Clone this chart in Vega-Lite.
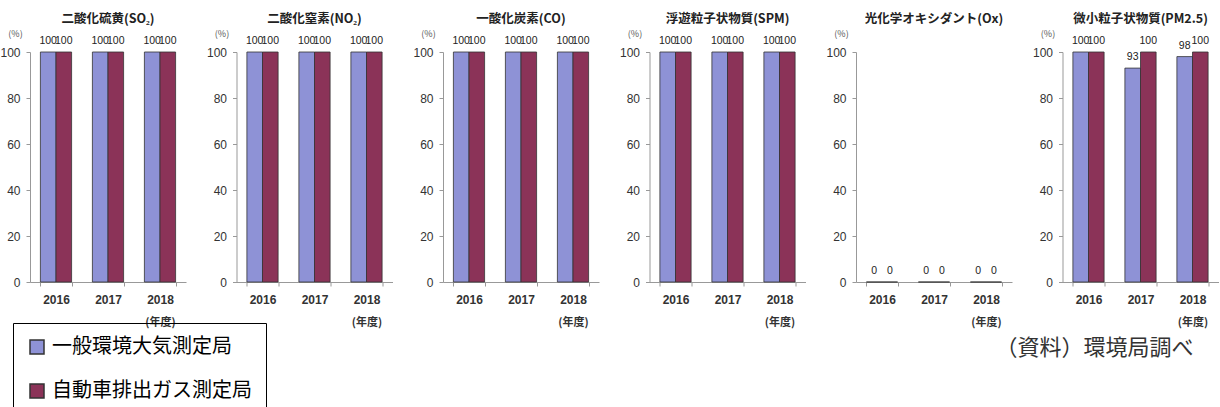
{
  "$schema": "https://vega.github.io/schema/vega-lite/v6.json",
  "background": "white",
  "padding": {"left": -1, "top": 12, "right": 0, "bottom": 0},
  "datasets": {
    "d": [
      {"pollutant": "SO2", "year": "2016", "station": "一般環境大気測定局", "value": 100},
      {"pollutant": "SO2", "year": "2016", "station": "自動車排出ガス測定局", "value": 100},
      {"pollutant": "SO2", "year": "2017", "station": "一般環境大気測定局", "value": 100},
      {"pollutant": "SO2", "year": "2017", "station": "自動車排出ガス測定局", "value": 100},
      {"pollutant": "SO2", "year": "2018", "station": "一般環境大気測定局", "value": 100},
      {"pollutant": "SO2", "year": "2018", "station": "自動車排出ガス測定局", "value": 100},
      {"pollutant": "NO2", "year": "2016", "station": "一般環境大気測定局", "value": 100},
      {"pollutant": "NO2", "year": "2016", "station": "自動車排出ガス測定局", "value": 100},
      {"pollutant": "NO2", "year": "2017", "station": "一般環境大気測定局", "value": 100},
      {"pollutant": "NO2", "year": "2017", "station": "自動車排出ガス測定局", "value": 100},
      {"pollutant": "NO2", "year": "2018", "station": "一般環境大気測定局", "value": 100},
      {"pollutant": "NO2", "year": "2018", "station": "自動車排出ガス測定局", "value": 100},
      {"pollutant": "CO", "year": "2016", "station": "一般環境大気測定局", "value": 100},
      {"pollutant": "CO", "year": "2016", "station": "自動車排出ガス測定局", "value": 100},
      {"pollutant": "CO", "year": "2017", "station": "一般環境大気測定局", "value": 100},
      {"pollutant": "CO", "year": "2017", "station": "自動車排出ガス測定局", "value": 100},
      {"pollutant": "CO", "year": "2018", "station": "一般環境大気測定局", "value": 100},
      {"pollutant": "CO", "year": "2018", "station": "自動車排出ガス測定局", "value": 100},
      {"pollutant": "SPM", "year": "2016", "station": "一般環境大気測定局", "value": 100},
      {"pollutant": "SPM", "year": "2016", "station": "自動車排出ガス測定局", "value": 100},
      {"pollutant": "SPM", "year": "2017", "station": "一般環境大気測定局", "value": 100},
      {"pollutant": "SPM", "year": "2017", "station": "自動車排出ガス測定局", "value": 100},
      {"pollutant": "SPM", "year": "2018", "station": "一般環境大気測定局", "value": 100},
      {"pollutant": "SPM", "year": "2018", "station": "自動車排出ガス測定局", "value": 100},
      {"pollutant": "Ox", "year": "2016", "station": "一般環境大気測定局", "value": 0},
      {"pollutant": "Ox", "year": "2016", "station": "自動車排出ガス測定局", "value": 0},
      {"pollutant": "Ox", "year": "2017", "station": "一般環境大気測定局", "value": 0},
      {"pollutant": "Ox", "year": "2017", "station": "自動車排出ガス測定局", "value": 0},
      {"pollutant": "Ox", "year": "2018", "station": "一般環境大気測定局", "value": 0},
      {"pollutant": "Ox", "year": "2018", "station": "自動車排出ガス測定局", "value": 0},
      {"pollutant": "PM25", "year": "2016", "station": "一般環境大気測定局", "value": 100},
      {"pollutant": "PM25", "year": "2016", "station": "自動車排出ガス測定局", "value": 100},
      {"pollutant": "PM25", "year": "2017", "station": "一般環境大気測定局", "value": 93},
      {"pollutant": "PM25", "year": "2017", "station": "自動車排出ガス測定局", "value": 100},
      {"pollutant": "PM25", "year": "2018", "station": "一般環境大気測定局", "value": 98},
      {"pollutant": "PM25", "year": "2018", "station": "自動車排出ガス測定局", "value": 100}
    ]
  },
  "data": {"name": "d"},
  "title": {"text": "（資料）環境局調べ", "orient": "bottom", "anchor": "end", "offset": -78, "dx": -25, "fontSize": 22, "font": "Noto Sans CJK JP", "fontWeight": "normal", "color": "#333"},
  "spacing": 19.5,
  "hconcat": [
    {
      "title": "二酸化硫黄(SO₂)",
      "transform": [{"filter": "datum.pollutant === 'SO2'"}],
      "width": 156, "height": 230,
      "encoding": {
        "x": {"field": "year", "type": "nominal", "scale": {"paddingInner": 0.4, "paddingOuter": 0.2}, "axis": {"title": "(年度)"}},
        "xOffset": {"field": "station", "type": "nominal"},
        "y": {"field": "value", "type": "quantitative", "scale": {"domain": [0, 100]}, "axis": {"title": "(%)"}}
      },
      "layer": [
        {"mark": {"type": "bar", "stroke": "#333", "strokeWidth": 0.8}, "encoding": {"color": {"field": "station", "type": "nominal"}}},
        {"mark": {"type": "text", "baseline": "bottom", "dy": -6, "fontSize": 10.5, "font": "Liberation Sans", "color": "#222"}, "encoding": {"text": {"field": "value", "type": "quantitative"}}}
      ]
    },
    {
      "title": "二酸化窒素(NO₂)",
      "transform": [{"filter": "datum.pollutant === 'NO2'"}],
      "width": 156, "height": 230,
      "encoding": {
        "x": {"field": "year", "type": "nominal", "scale": {"paddingInner": 0.4, "paddingOuter": 0.2}, "axis": {"title": "(年度)"}},
        "xOffset": {"field": "station", "type": "nominal"},
        "y": {"field": "value", "type": "quantitative", "scale": {"domain": [0, 100]}, "axis": {"title": "(%)"}}
      },
      "layer": [
        {"mark": {"type": "bar", "stroke": "#333", "strokeWidth": 0.8}, "encoding": {"color": {"field": "station", "type": "nominal"}}},
        {"mark": {"type": "text", "baseline": "bottom", "dy": -6, "fontSize": 10.5, "font": "Liberation Sans", "color": "#222"}, "encoding": {"text": {"field": "value", "type": "quantitative"}}}
      ]
    },
    {
      "title": "一酸化炭素(CO)",
      "transform": [{"filter": "datum.pollutant === 'CO'"}],
      "width": 156, "height": 230,
      "encoding": {
        "x": {"field": "year", "type": "nominal", "scale": {"paddingInner": 0.4, "paddingOuter": 0.2}, "axis": {"title": "(年度)"}},
        "xOffset": {"field": "station", "type": "nominal"},
        "y": {"field": "value", "type": "quantitative", "scale": {"domain": [0, 100]}, "axis": {"title": "(%)"}}
      },
      "layer": [
        {"mark": {"type": "bar", "stroke": "#333", "strokeWidth": 0.8}, "encoding": {"color": {"field": "station", "type": "nominal"}}},
        {"mark": {"type": "text", "baseline": "bottom", "dy": -6, "fontSize": 10.5, "font": "Liberation Sans", "color": "#222"}, "encoding": {"text": {"field": "value", "type": "quantitative"}}}
      ]
    },
    {
      "title": "浮遊粒子状物質(SPM)",
      "transform": [{"filter": "datum.pollutant === 'SPM'"}],
      "width": 156, "height": 230,
      "encoding": {
        "x": {"field": "year", "type": "nominal", "scale": {"paddingInner": 0.4, "paddingOuter": 0.2}, "axis": {"title": "(年度)"}},
        "xOffset": {"field": "station", "type": "nominal"},
        "y": {"field": "value", "type": "quantitative", "scale": {"domain": [0, 100]}, "axis": {"title": "(%)"}}
      },
      "layer": [
        {"mark": {"type": "bar", "stroke": "#333", "strokeWidth": 0.8}, "encoding": {"color": {"field": "station", "type": "nominal"}}},
        {"mark": {"type": "text", "baseline": "bottom", "dy": -6, "fontSize": 10.5, "font": "Liberation Sans", "color": "#222"}, "encoding": {"text": {"field": "value", "type": "quantitative"}}}
      ]
    },
    {
      "title": "光化学オキシダント(Ox)",
      "transform": [{"filter": "datum.pollutant === 'Ox'"}],
      "width": 156, "height": 230,
      "encoding": {
        "x": {"field": "year", "type": "nominal", "scale": {"paddingInner": 0.4, "paddingOuter": 0.2}, "axis": {"title": "(年度)"}},
        "xOffset": {"field": "station", "type": "nominal"},
        "y": {"field": "value", "type": "quantitative", "scale": {"domain": [0, 100]}, "axis": {"title": "(%)"}}
      },
      "layer": [
        {"mark": {"type": "bar", "stroke": "#333", "strokeWidth": 0.8}, "encoding": {"color": {"field": "station", "type": "nominal"}}},
        {"mark": {"type": "text", "baseline": "bottom", "dy": -6, "fontSize": 10.5, "font": "Liberation Sans", "color": "#222"}, "encoding": {"text": {"field": "value", "type": "quantitative"}}}
      ]
    },
    {
      "title": "微小粒子状物質(PM2.5)",
      "transform": [{"filter": "datum.pollutant === 'PM25'"}],
      "width": 156, "height": 230,
      "encoding": {
        "x": {"field": "year", "type": "nominal", "scale": {"paddingInner": 0.4, "paddingOuter": 0.2}, "axis": {"title": "(年度)"}},
        "xOffset": {"field": "station", "type": "nominal"},
        "y": {"field": "value", "type": "quantitative", "scale": {"domain": [0, 100]}, "axis": {"title": "(%)"}}
      },
      "layer": [
        {"mark": {"type": "bar", "stroke": "#333", "strokeWidth": 0.8}, "encoding": {"color": {"field": "station", "type": "nominal"}}},
        {"mark": {"type": "text", "baseline": "bottom", "dy": -6, "fontSize": 10.5, "font": "Liberation Sans", "color": "#222"}, "encoding": {"text": {"field": "value", "type": "quantitative"}}}
      ]
    }
  ],
  "resolve": {"scale": {"color": "shared"}},
  "config": {
    "view": {"stroke": null},
    "font": "Noto Sans CJK JP",
    "title": {"fontSize": 12.5, "fontWeight": "bold", "color": "#222", "offset": 4, "anchor": "middle"},
    "range": {"category": ["#8E92D6", "#8B3358"]},
    "axisX": {"labelAngle": 0, "labelFontSize": 12, "labelFont": "Liberation Sans", "labelFontWeight": "bold", "labelColor": "#333", "labelPadding": 8, "domainColor": "#999", "tickColor": "#999", "tickBand": "extent", "tickSize": 4, "titleFontSize": 11, "titleFontWeight": "bold", "titleColor": "#333", "titleX": 130, "titleY": 34, "titleBaseline": "top", "titleAlign": "center"},
    "axisY": {"values": [0, 20, 40, 60, 80, 100], "grid": false, "labelFontSize": 12, "labelFont": "Liberation Sans", "labelColor": "#333", "labelPadding": 6, "domainColor": "#999", "tickColor": "#999", "tickSize": 4, "titleAngle": 0, "titleX": -15, "titleY": -14, "titleFontSize": 9, "titleFontWeight": "normal", "titleColor": "#555", "titleAlign": "center", "titleBaseline": "bottom"},
    "legend": {"orient": "none", "legendX": -17, "legendY": 271, "title": null, "labelFontSize": 20, "labelFont": "Noto Sans CJK JP", "labelColor": "#000", "labelLimit": 400, "symbolType": "square", "symbolSize": 196, "symbolStrokeColor": "#333", "symbolStrokeWidth": 1.5, "symbolOpacity": 1, "strokeColor": "#000", "padding": 14, "rowPadding": 24, "labelOffset": 5}
  }
}
